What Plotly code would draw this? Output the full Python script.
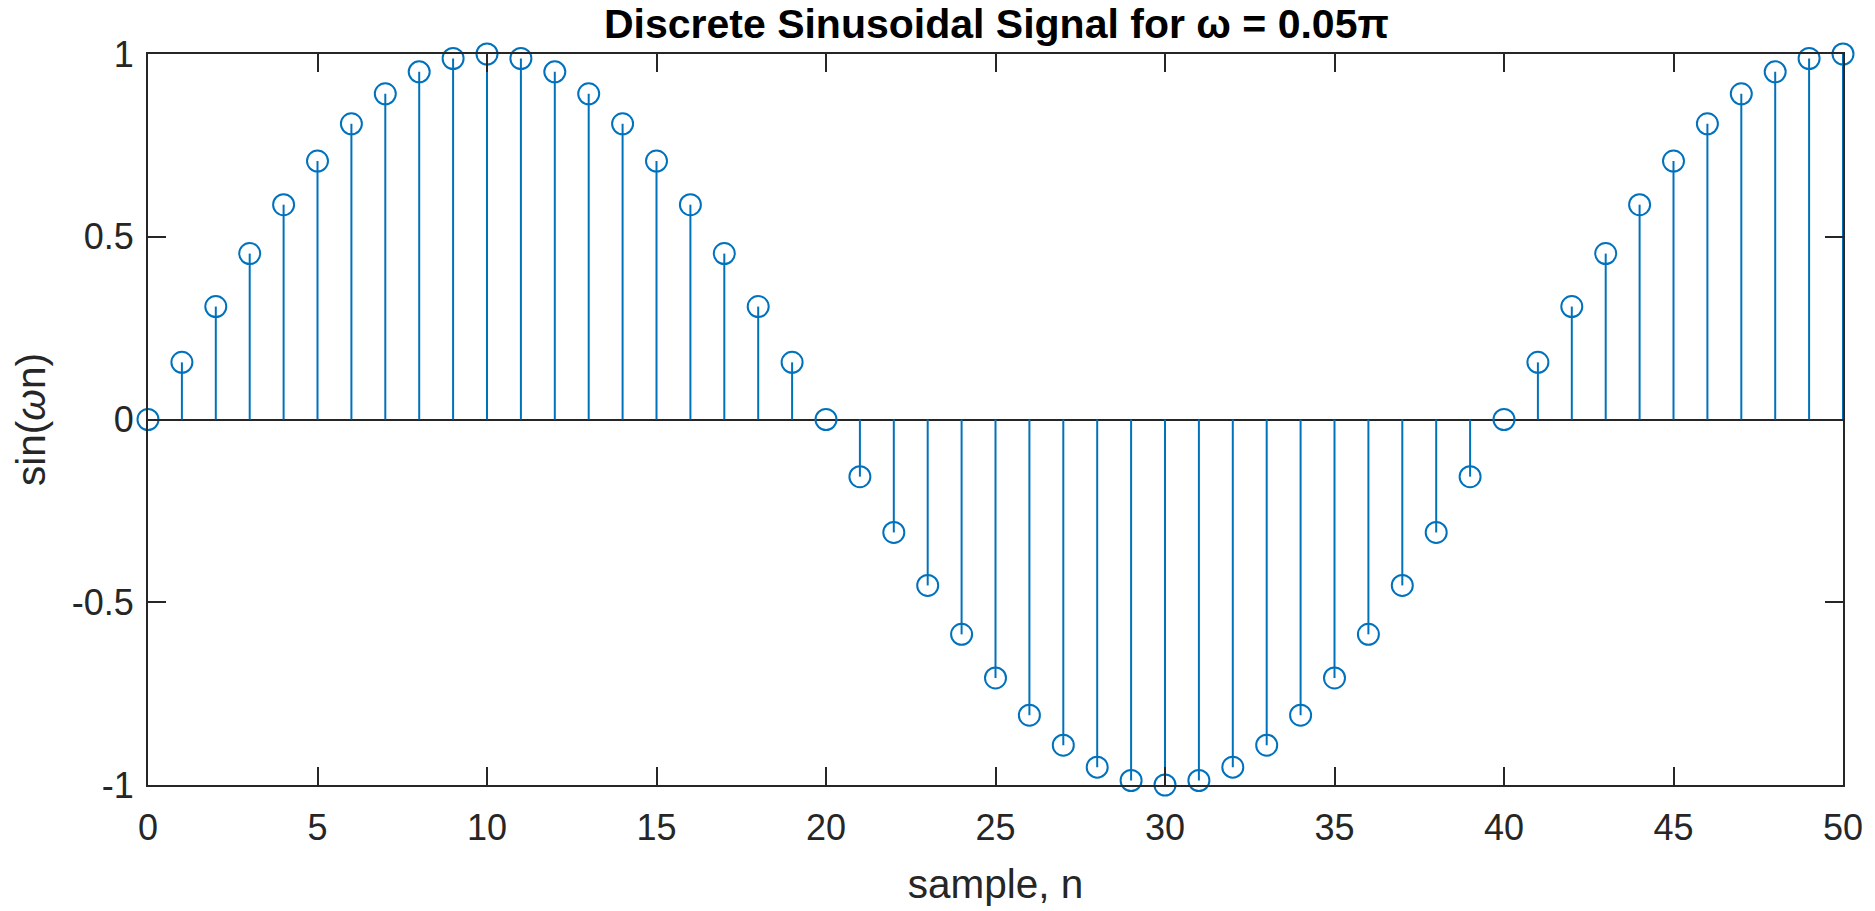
import plotly.graph_objects as go

n = list(range(51))
values = [
    0.0, 0.1564, 0.3090, 0.4540, 0.5878, 0.7071, 0.8090, 0.8910, 0.9511, 0.9877,
    1.0, 0.9877, 0.9511, 0.8910, 0.8090, 0.7071, 0.5878, 0.4540, 0.3090, 0.1564,
    0.0, -0.1564, -0.3090, -0.4540, -0.5878, -0.7071, -0.8090, -0.8910, -0.9511, -0.9877,
    -1.0, -0.9877, -0.9511, -0.8910, -0.8090, -0.7071, -0.5878, -0.4540, -0.3090, -0.1564,
    0.0, 0.1564, 0.3090, 0.4540, 0.5878, 0.7071, 0.8090, 0.8910, 0.9511, 0.9877,
    1.0,
]
x_ticks = [0, 5, 10, 15, 20, 25, 30, 35, 40, 45, 50]
y_ticks = [-1, -0.5, 0, 0.5, 1]
y_tick_labels = ["-1", "-0.5", "0", "0.5", "1"]

BLUE = "#0072BD"
AX = "#262626"
FONT = "Liberation Sans, Arial, Helvetica, sans-serif"

stem_x, stem_y = [], []
for xi, yi in zip(n, values):
    stem_x += [xi, xi, None]
    stem_y += [0, yi, None]

fig = go.Figure()
fig.add_trace(go.Scatter(x=stem_x, y=stem_y, mode="lines",
                         line=dict(color=BLUE, width=2), hoverinfo="skip",
                         showlegend=False, cliponaxis=False))
fig.add_trace(go.Scatter(x=n, y=values, mode="markers",
                         marker=dict(symbol="circle-open", size=21, color=BLUE,
                                     line=dict(color=BLUE, width=2)),
                         showlegend=False, cliponaxis=False))

fig.update_layout(
    width=1875, height=911,
    margin=dict(l=148, r=32, t=54, b=122),
    paper_bgcolor="white", plot_bgcolor="white",
    font=dict(family=FONT, color=AX, size=36),
    title=dict(text="<b>Discrete Sinusoidal Signal for ω = 0.05π</b>",
               x=0.5314, xanchor="center", y=0.9737, yanchor="middle",
               font=dict(family=FONT, size=41, color="black")),
    xaxis=dict(range=[0, 50], tickvals=x_ticks, ticks="inside", ticklen=18,
               tickwidth=2, tickcolor=AX, showline=True, linecolor=AX, linewidth=2,
               mirror="ticks", showgrid=False, zeroline=False, ticklabelstandoff=10,
               title=dict(text="sample, n", font=dict(size=40.5, color=AX), standoff=22),
               tickfont=dict(size=36, color=AX)),
    yaxis=dict(range=[-1, 1], tickvals=y_ticks, ticktext=y_tick_labels,
               ticks="inside", ticklen=18, tickwidth=2, tickcolor=AX,
               showline=True, linecolor=AX, linewidth=2, mirror="ticks",
               showgrid=False, zeroline=True, zerolinecolor=AX, zerolinewidth=2,
               ticklabelstandoff=5,
               title=dict(text="sin(<i>ω</i>n)", font=dict(size=40.5, color=AX), standoff=14),
               tickfont=dict(size=36, color=AX)),
)

fig.write_html("out.html")
